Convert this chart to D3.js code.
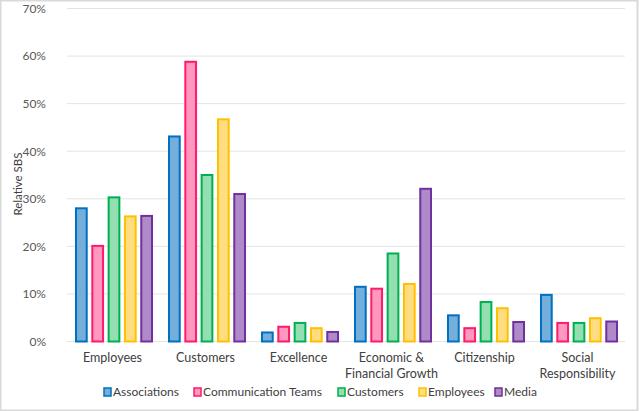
<!DOCTYPE html>
<html lang="en">
<head>
<meta charset="utf-8">
<script src="https://d3js.org/d3.v7.min.js"></script>
<style>
  body { margin: 0; background: #fff; }
  text { font-family: Lato, "Open Sans", sans-serif; }
</style>
</head>
<body>
<script>
// categories and series
var categories = [["Employees"], ["Customers"], ["Excellence"], ["Economic &", "Financial Growth"], ["Citizenship"], ["Social", "Responsibility"]];
var seriesNames = ["Associations", "Communication Teams", "Customers", "Employees", "Media"];
var associations = [28.0, 43.1, 1.9, 11.5, 5.5, 9.8];
var commTeams = [20.1, 58.8, 3.1, 11.1, 2.8, 3.9];
var customers = [30.3, 35.0, 3.9, 18.5, 8.3, 3.9];
var employees = [26.3, 46.7, 2.8, 12.1, 7.0, 4.9];
var media = [26.4, 31.0, 2.0, 32.1, 4.1, 4.2];
var yTicks = [0, 10, 20, 30, 40, 50, 60, 70];

var series = [associations, commTeams, customers, employees, media];
var fills = ["#74afdc", "#ff97bf", "#93dfb1", "#ffdd80", "#af8ac8"];
var strokes = ["#0070c0", "#ff1a6c", "#00b050", "#ffc000", "#7030a0"];

var w = 640, h = 411;
var svg = d3.select("body").append("svg").attr("width", w).attr("height", h);

// outer frame
svg.append("rect").attr("x", 0.5).attr("y", 0.5).attr("width", w - 3).attr("height", h - 1)
   .attr("fill", "#fff").attr("stroke", "#d9d9d9").attr("stroke-width", 2);

var catKeys = categories.map(function(d) { return d.join(" "); });

var x0 = d3.scaleBand().domain(catKeys).range([67, 625]);
var x1 = d3.scaleBand().domain(d3.range(5)).range([8, 86]).paddingInner(0.22);
var y = d3.scaleLinear().domain([0, 70]).range([341.5, 8.5]);

// gridlines
svg.append("g").selectAll("line").data(yTicks).enter().append("line")
   .attr("x1", 67).attr("x2", 625)
   .attr("y1", function(d) { return y(d); }).attr("y2", function(d) { return y(d); })
   .attr("stroke", "#e3e3e3").attr("stroke-width", 1);

// y axis
var yAxis = d3.axisLeft(y).tickValues(yTicks).tickSize(0).tickPadding(0)
   .tickFormat(function(d) { return d + "%"; });
var gy = svg.append("g").attr("transform", "translate(46,0)").call(yAxis);
gy.select(".domain").remove();
gy.selectAll("text").attr("font-size", "12px").attr("fill", "#595959")
   .style("font-family", "Lato, sans-serif");

svg.append("text").attr("transform", "translate(22,184) rotate(-90)")
   .attr("text-anchor", "middle").attr("font-size", "11.5px").attr("fill", "#404040")
   .text("Relative SBS");

// bars
series.forEach(function(vals, s) {
  svg.append("g").selectAll("rect").data(vals).enter().append("rect")
     .attr("x", function(d, i) { return x0(catKeys[i]) + x1(s) + 1; })
     .attr("y", function(d) { return y(d); })
     .attr("width", x1.bandwidth() - 2)
     .attr("height", function(d) { return y(0) - y(d); })
     .attr("fill", fills[s]).attr("stroke", strokes[s]).attr("stroke-width", 2);
});

// category labels
var gc = svg.append("g").selectAll("text").data(categories).enter().append("text")
   .attr("text-anchor", "middle").attr("font-size", "12.5px").attr("fill", "#404040")
   .attr("x", function(d, i) { return x0(catKeys[i]) + x0.bandwidth() / 2 - 1; })
   .attr("y", 362);
gc.selectAll("tspan").data(function(d) { return d; }).enter().append("tspan")
   .attr("x", function() { return d3.select(this.parentNode).attr("x"); })
   .attr("dy", function(d, i) { return i === 0 ? 0 : 16; })
   .text(function(d) { return d; });

// legend
var legendX = [104, 194, 338, 419, 495];
var lg = svg.append("g").selectAll("g").data(seriesNames).enter().append("g")
   .attr("transform", function(d, i) { return "translate(" + legendX[i] + ",392)"; });
lg.append("rect").attr("x", 0).attr("y", -4).attr("width", 7).attr("height", 8)
   .attr("fill", function(d, i) { return fills[i]; })
   .attr("stroke", function(d, i) { return strokes[i]; }).attr("stroke-width", 1.5);
lg.append("text").attr("x", 9).attr("y", 4.3).attr("font-size", "12px").attr("fill", "#404040")
   .text(function(d) { return d; });
</script>
</body>
</html>
